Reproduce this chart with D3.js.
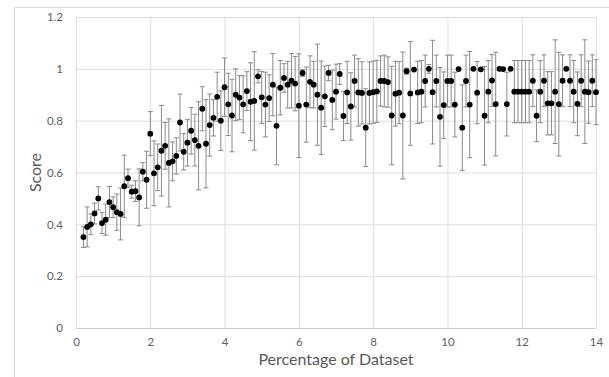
<!DOCTYPE html>
<html>
<head>
<meta charset="utf-8">
<script src="https://cdn.jsdelivr.net/npm/d3@7"></script>
<style>
  body { margin: 0; background: #fff; }
  svg { display: block; }
</style>
</head>
<body>
<script>
// percentage of dataset (x), mean score (y), error bar half-width
const pct = [
  0.2, 0.3, 0.4, 0.5, 0.6, 0.7, 0.8, 0.9, 1.0, 1.1, 1.2, 1.3, 1.4, 1.5, 1.6, 1.7, 1.8, 1.9,
  2.0, 2.1, 2.2, 2.3, 2.4, 2.5, 2.6, 2.7, 2.8, 2.9, 3.0, 3.1, 3.2, 3.3, 3.4, 3.5, 3.6, 3.7, 3.8, 3.9,
  4.0, 4.1, 4.2, 4.3, 4.4, 4.5, 4.6, 4.7, 4.8, 4.9, 5.0, 5.1, 5.2, 5.3, 5.4, 5.5, 5.6, 5.7, 5.8, 5.9,
  6.0, 6.1, 6.2, 6.3, 6.4, 6.5, 6.6, 6.7, 6.8, 6.9, 7.0, 7.1, 7.2, 7.3, 7.4, 7.5, 7.6, 7.7, 7.8, 7.9,
  8.0, 8.1, 8.2, 8.3, 8.4, 8.5, 8.6, 8.7, 8.8, 8.9, 9.0, 9.1, 9.2, 9.3, 9.4, 9.5, 9.6, 9.7, 9.8, 9.9,
  10.0, 10.1, 10.2, 10.3, 10.4, 10.5, 10.6, 10.7, 10.8, 10.9, 11.0, 11.1, 11.2, 11.3, 11.4, 11.5, 11.6, 11.7, 11.8, 11.9,
  12.0, 12.1, 12.2, 12.3, 12.4, 12.5, 12.6, 12.7, 12.8, 12.9, 13.0, 13.1, 13.2, 13.3, 13.4, 13.5, 13.6, 13.7, 13.8, 13.9,
  14.0
];
const score = [
  0.351, 0.39, 0.40, 0.442, 0.50, 0.405, 0.418, 0.486, 0.466, 0.447, 0.44, 0.547, 0.578, 0.526, 0.528, 0.504, 0.603, 0.572,
  0.75, 0.597, 0.62, 0.684, 0.703, 0.637, 0.643, 0.664, 0.793, 0.68, 0.715, 0.761, 0.725, 0.703, 0.846, 0.711, 0.783, 0.811, 0.892, 0.80,
  0.929, 0.863, 0.82, 0.90, 0.889, 0.863, 0.914, 0.873, 0.876, 0.971, 0.89, 0.862, 0.887, 0.939, 0.78, 0.927, 0.965, 0.939, 0.954, 0.943,
  0.858, 0.984, 0.862, 0.95, 0.939, 0.90, 0.85, 0.894, 0.984, 0.88, 0.912, 0.98, 0.818, 0.909, 0.855, 0.953, 0.909, 0.907, 0.773, 0.907,
  0.91, 0.913, 0.953, 0.953, 0.949, 0.82, 0.904, 0.908, 0.82, 0.991, 0.905, 0.997, 0.909, 0.912, 0.953, 1.0, 0.91, 0.953, 0.815, 0.86,
  0.953, 0.953, 0.862, 0.999, 0.773, 0.953, 0.862, 1.0, 0.908, 0.998, 0.819, 0.912, 0.955, 0.864, 1.0, 0.999, 0.864, 1.0, 0.912, 0.912,
  0.912, 0.912, 0.912, 0.954, 0.819, 0.912, 0.954, 0.867, 0.867, 0.912, 0.864, 0.954, 1.0, 0.954, 0.912, 0.865, 0.954, 0.912, 0.91, 0.954,
  0.91
];
const err = [
  0.04, 0.077, 0.04, 0.04, 0.045, 0.04, 0.06, 0.06, 0.04, 0.07, 0.1, 0.12, 0.035, 0.025, 0.04, 0.11, 0.035, 0.11,
  0.085, 0.125, 0.09, 0.175, 0.09, 0.17, 0.075, 0.07, 0.11, 0.07, 0.09, 0.09, 0.1, 0.17, 0.085, 0.17, 0.12, 0.07, 0.095, 0.115,
  0.113, 0.12, 0.14, 0.1, 0.085, 0.11, 0.075, 0.15, 0.19, 0.025, 0.1, 0.125, 0.09, 0.12, 0.15, 0.105, 0.055, 0.09, 0.105, 0.105,
  0.2, 0.013, 0.145, 0.1, 0.09, 0.195, 0.18, 0.117, 0.03, 0.115, 0.106, 0.04, 0.095, 0.12, 0.13, 0.1, 0.13, 0.12, 0.15, 0.12,
  0.12, 0.12, 0.097, 0.1, 0.097, 0.19, 0.125, 0.12, 0.245, 0.012, 0.2, 0, 0.12, 0.12, 0.1, 0.017, 0.2, 0.1, 0.19, 0.128,
  0.1, 0.1, 0.125, 0, 0.165, 0.1, 0.205, 0, 0.12, 0, 0.19, 0.12, 0.1, 0.2, 0, 0, 0.123, 0, 0.12, 0.12,
  0.12, 0.12, 0.12, 0.1, 0.1, 0.12, 0.1, 0.122, 0.122, 0.2, 0.2, 0.1, 0, 0.1, 0.12, 0.123, 0.1, 0.2, 0.12, 0.1,
  0.125
];
const xTicks = [0, 2, 4, 6, 8, 10, 12, 14];
const yTicks = [0, 0.2, 0.4, 0.6, 0.8, 1, 1.2];

const width = 609, height = 377;
const margin = {top: 17, right: 13, bottom: 49, left: 76};

const svg = d3.select("body").append("svg")
    .attr("width", width)
    .attr("height", height)
    .style("font-family", "Lato, 'Open Sans', sans-serif");

// chart area border
svg.append("rect")
    .attr("x", 14.5).attr("y", 7.5)
    .attr("width", 600).attr("height", 380)
    .attr("fill", "none")
    .attr("stroke", "#d9d9d9");

const x = d3.scaleLinear().domain([0, 14]).range([margin.left, width - margin.right]);
const y = d3.scaleLinear().domain([0, 1.2]).range([height - margin.bottom, margin.top]);

const fmt = d => String(+d.toFixed(1));

// gridlines
svg.append("g")
    .attr("transform", `translate(0,${y(0)})`)
    .call(d3.axisBottom(x).tickValues(xTicks).tickSize(-(y(0) - y(1.2))).tickFormat(""))
    .call(g => g.select(".domain").remove())
    .call(g => g.selectAll("line").attr("stroke", "#dedede"));

svg.append("g")
    .attr("transform", `translate(${x(0)},0)`)
    .call(d3.axisLeft(y).tickValues(yTicks).tickSize(-(x(14) - x(0))).tickFormat(""))
    .call(g => g.select(".domain").remove())
    .call(g => g.selectAll("line").attr("stroke", "#dedede"));

// bottom axis line
svg.append("line")
    .attr("x1", x(0)).attr("x2", x(14))
    .attr("y1", y(0) + 0.5).attr("y2", y(0) + 0.5)
    .attr("stroke", "#cfcfcf");

// tick labels
svg.append("g")
    .attr("transform", `translate(0,${y(0)})`)
    .call(d3.axisBottom(x).tickValues(xTicks).tickSize(0).tickPadding(10).tickFormat(fmt))
    .call(g => g.select(".domain").remove())
    .call(g => g.selectAll("text").attr("fill", "#606060").style("font-size", "11.5px").style("font-family", "Lato, sans-serif"));

svg.append("g")
    .attr("transform", `translate(${x(0)},0)`)
    .call(d3.axisLeft(y).tickValues(yTicks).tickSize(0).tickPadding(13).tickFormat(fmt))
    .call(g => g.select(".domain").remove())
    .call(g => g.selectAll("text").attr("fill", "#606060").style("font-size", "11.5px").style("font-family", "Lato, sans-serif"));

// axis titles
svg.append("text")
    .attr("x", (x(0) + x(14)) / 2)
    .attr("y", 365)
    .attr("text-anchor", "middle")
    .attr("fill", "#595959")
    .style("font-size", "16px")
    .text("Percentage of Dataset");

svg.append("text")
    .attr("transform", `translate(41,${(y(0) + y(1.2)) / 2}) rotate(-90)`)
    .attr("text-anchor", "middle")
    .attr("fill", "#595959")
    .style("font-size", "16px")
    .text("Score");

const data = pct.map((p, i) => ({p, s: score[i], e: err[i]}));

// error bars
const bars = svg.append("g")
    .attr("stroke", "#8a8a8a")
    .attr("stroke-width", 1)
    .selectAll("g")
    .data(data.filter(d => d.e > 0))
    .join("g");

bars.append("line")
    .attr("x1", d => x(d.p)).attr("x2", d => x(d.p))
    .attr("y1", d => y(d.s + d.e)).attr("y2", d => y(d.s - d.e));

bars.append("line")
    .attr("x1", d => x(d.p) - 2.5).attr("x2", d => x(d.p) + 2.5)
    .attr("y1", d => y(d.s + d.e)).attr("y2", d => y(d.s + d.e));

bars.append("line")
    .attr("x1", d => x(d.p) - 2.5).attr("x2", d => x(d.p) + 2.5)
    .attr("y1", d => y(d.s - d.e)).attr("y2", d => y(d.s - d.e));

// markers
svg.append("g")
    .selectAll("circle")
    .data(data)
    .join("circle")
    .attr("cx", d => x(d.p))
    .attr("cy", d => y(d.s))
    .attr("r", 2.9)
    .attr("fill", "#000");
</script>
</body>
</html>
